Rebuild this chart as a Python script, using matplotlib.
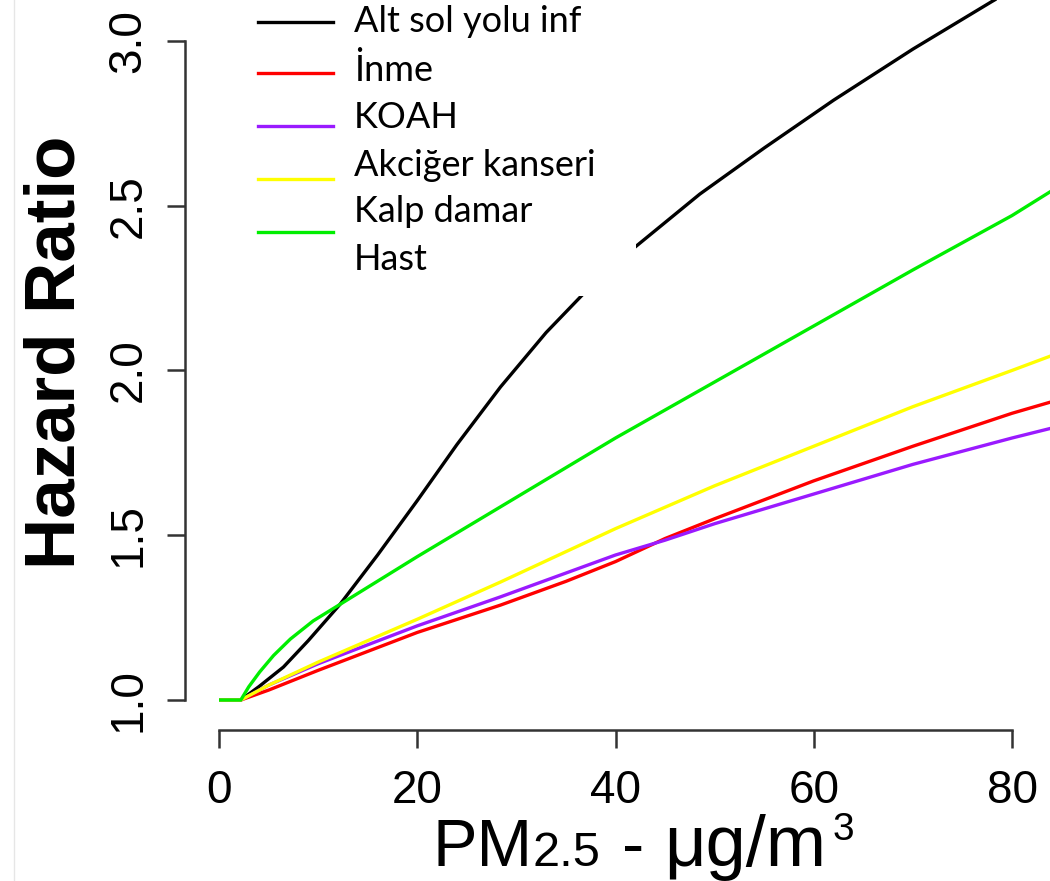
import matplotlib
matplotlib.use('Agg')
import matplotlib.pyplot as plt
from matplotlib.lines import Line2D
from matplotlib.patches import Rectangle

# PM2.5 (ug/m3) vs hazard ratio
pm_alri = [0, 2.2, 4, 6.5, 9, 12.2, 16, 20, 24, 28.4, 33, 37, 42, 48.5, 55, 62, 70, 78, 84]
hr_alri = [1.0, 1.0, 1.04, 1.10, 1.18, 1.29, 1.44, 1.605, 1.775, 1.95, 2.115, 2.24, 2.375, 2.535, 2.675, 2.82, 2.975, 3.12, 3.225]

pm_stroke = [0, 2.2, 5, 10, 20, 28.4, 35, 40, 45, 50, 60, 70, 80, 84]
hr_stroke = [1.0, 1.0, 1.03, 1.09, 1.205, 1.288, 1.36, 1.42, 1.49, 1.55, 1.665, 1.77, 1.87, 1.905]

pm_copd = [0, 2.2, 5, 10, 20, 28.4, 40, 45, 50, 60, 70, 80, 84]
hr_copd = [1.0, 1.0, 1.045, 1.11, 1.225, 1.313, 1.44, 1.485, 1.535, 1.625, 1.715, 1.795, 1.825]

pm_lung = [0, 2.2, 5, 10, 20, 28.4, 40, 50, 60, 70, 80, 84]
hr_lung = [1.0, 1.0, 1.045, 1.115, 1.245, 1.358, 1.52, 1.65, 1.77, 1.89, 2.0, 2.045]

pm_ihd = [0, 2.2, 3, 4.1, 5.5, 7.2, 9.5, 12.2, 20, 30, 40, 50, 60, 70, 80, 84]
hr_ihd = [1.0, 1.0, 1.04, 1.085, 1.135, 1.185, 1.24, 1.29, 1.435, 1.615, 1.795, 1.965, 2.135, 2.305, 2.47, 2.545]

labels = ['Alt sol yolu inf', 'İnme', 'KOAH', 'Akciğer kanseri', 'Kalp damar']
colors = ['black', '#ff0000', '#9a1aff', '#ffff00', '#00ee00']
x_ticks = [0, 20, 40, 60, 80]
y_ticks = [1.0, 1.5, 2.0, 2.5, 3.0]

plt.rcParams['font.family'] = ['Liberation Sans', 'DejaVu Sans']

fig = plt.figure(figsize=(10.5, 8.81), dpi=100)
ax = fig.add_axes([185 / 1050, 1 - 730 / 881, 1 - 185 / 1050, 730 / 881])

series = [(pm_alri, hr_alri), (pm_stroke, hr_stroke), (pm_copd, hr_copd),
          (pm_lung, hr_lung), (pm_ihd, hr_ihd)]
for (px, py), c in zip(series, colors):
    ax.plot(px, py, color=c, lw=2.4, solid_capstyle='butt', solid_joinstyle='round')

ax.set_xlim(-3.43, 83.83)
ax.set_ylim(0.909, 3.124)

for s in ['top', 'right']:
    ax.spines[s].set_visible(False)
ax.spines['left'].set_bounds(1.0, 3.0)
ax.spines['bottom'].set_bounds(0, 80)
for s in ['left', 'bottom']:
    ax.spines[s].set_color('#333333')
    ax.spines[s].set_linewidth(1.8)

ax.set_xticks(x_ticks)
ax.set_xticklabels([str(t) for t in x_ticks])
ax.set_yticks(y_ticks)
ax.set_yticklabels(['%.1f' % t for t in y_ticks], rotation=90, va='center')
ax.tick_params(axis='both', length=13, width=1.8, color='#333333')
ax.tick_params(axis='x', pad=15, labelsize=33)
ax.tick_params(axis='y', pad=12, labelsize=33)

# white legend panel sitting over the curves
ax.add_patch(Rectangle((55 / 865, 434 / 730), 396 / 865, 0.5, transform=ax.transAxes,
                       facecolor='white', edgecolor='none', zorder=5, clip_on=False))
line_y = [22, 73, 126, 179, 232]
text_y = [22, 70, 118, 165, 212]
for ly, ty, lab, c in zip(line_y, text_y, labels, colors):
    fig.add_artist(Line2D([258 / 1050, 333 / 1050], [1 - ly / 881, 1 - ly / 881],
                          color=c, lw=2.4, zorder=6))
    fig.text(354 / 1050, 1 - ty / 881, lab, fontsize=26, family=['Lato', 'DejaVu Sans'],
             va='center', ha='left', zorder=6)
fig.text(354 / 1050, 1 - 260 / 881, 'Hast', fontsize=26, family=['Lato', 'DejaVu Sans'],
         va='center', ha='left', zorder=6)

fig.text(57 / 1050, 1 - 352 / 881, 'Hazard Ratio', rotation=90, fontsize=51,
         fontweight='bold', ha='center', va='center')

# x label: PM2.5 - ug/m3 with small "2.5" on the baseline and superscript 3
base = 1 - 866 / 881
t1 = fig.text(432 / 1050, base, 'PM', fontsize=48, va='baseline', ha='left')
t2 = ax.annotate('2.5', xy=(1, base), xycoords=(t1, 'figure fraction'),
                 fontsize=35, va='baseline', ha='left')
t3 = ax.annotate('-', xy=(1, base), xycoords=(t2, 'figure fraction'),
                 xytext=(22, 0), textcoords='offset pixels',
                 fontsize=48, va='baseline', ha='left')
t4 = ax.annotate('μg/m', xy=(1, base), xycoords=(t3, 'figure fraction'),
                 xytext=(20, 0), textcoords='offset pixels',
                 fontsize=52, va='baseline', ha='left')
ax.annotate('3', xy=(1, base + 26 / 881), xycoords=(t4, 'figure fraction'),
            xytext=(6, 0), textcoords='offset pixels',
            fontsize=28, va='baseline', ha='left')

fig.add_artist(Line2D([14 / 1050, 14 / 1050], [0, 1], color='#e6e6e6', lw=1))

fig.savefig('out.png', dpi=100)
